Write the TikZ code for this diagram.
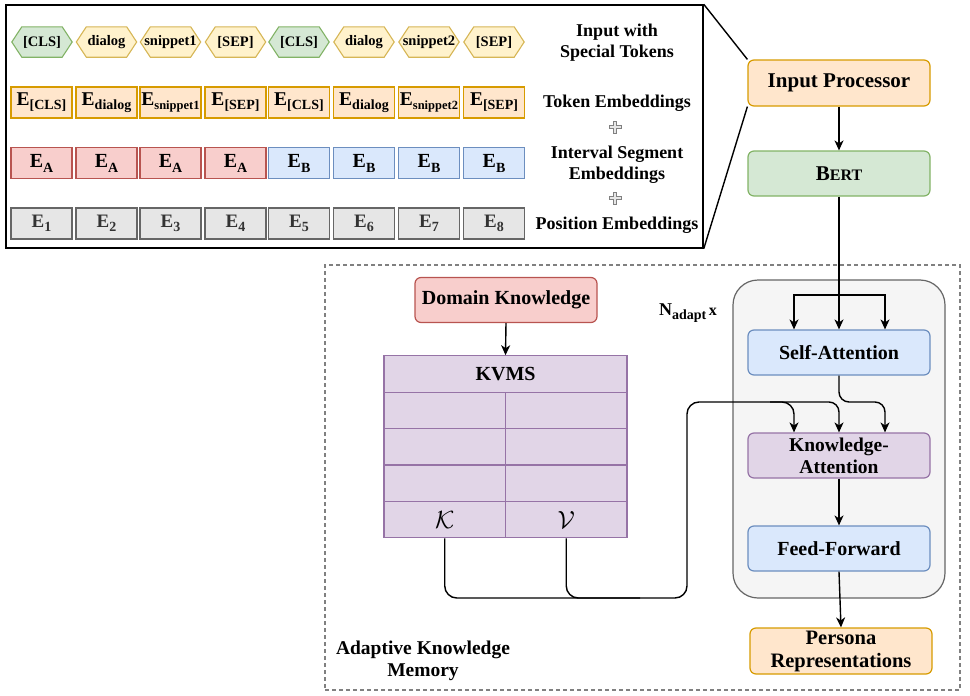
\documentclass[tikz,border=0pt]{standalone}
\usepackage{fontspec}
\setmainfont{Liberation Serif}
\usetikzlibrary{arrows.meta,backgrounds}
\definecolor{grnF}{HTML}{D5E8D4}\definecolor{grnD}{HTML}{82B366}
\definecolor{yelF}{HTML}{FFF2CC}\definecolor{yelD}{HTML}{D6B656}
\definecolor{orF}{HTML}{FFE6CC}\definecolor{orD}{HTML}{D79B00}
\definecolor{redF}{HTML}{F8CECC}\definecolor{redD}{HTML}{B85450}
\definecolor{bluF}{HTML}{DAE8FC}\definecolor{bluD}{HTML}{6C8EBF}
\definecolor{purF}{HTML}{E1D5E7}\definecolor{purD}{HTML}{9673A6}
\definecolor{gryF}{HTML}{E6E6E6}\definecolor{gryD}{HTML}{666666}
\definecolor{conF}{HTML}{F5F5F5}\definecolor{txtG}{HTML}{333333}
\newcommand{\fsz}[2]{\fontsize{#1pt}{#2pt}\selectfont}
\newcommand{\Emb}[4]{{\fsz{#1}{#1}E}\raisebox{-#3pt}{\fsz{#2}{#2}#4}}
\tikzset{
  hexa/.style={rectangle, minimum width=60pt, minimum height=30pt, inner sep=0pt,
    font=\bfseries\fsz{14.5}{16}},
  hexline/.style={line width=1.1pt},
  emb/.style={draw, rectangle, minimum width=61pt, minimum height=31pt, inner sep=0pt,
    line width=1.3pt, font=\bfseries},
  blk/.style={draw, rounded corners=6pt, minimum width=182pt, minimum height=45pt,
    line width=1.2pt, align=center, font=\bfseries\fsz{20}{22}, inner sep=0pt},
  cell/.style={draw=purD, fill=purF, line width=1.2pt, minimum width=121.5pt,
    minimum height=36.4pt, inner sep=0pt},
  conn/.style={line width=1.4pt, draw=black},
  arr/.style={conn, -{Stealth[length=10pt,width=9pt,inset=3pt]}},
  lbl/.style={align=center, font=\bfseries\fsz{18}{21}, inner sep=0pt},
  plussign/.style={fill=gryF, draw=gray, line width=0.8pt}
}
\begin{document}
\begin{tikzpicture}[x=1pt,y=-1pt]
\useasboundingbox (0,0) rectangle (970,696);
% zoom box
\node[draw, line width=1.5pt, minimum width=697pt, minimum height=243pt, inner sep=0pt] (zoombox) at (354.5,126.5) {};
% hexagons
\foreach \i/\x/\t/\f/\d in {1/42/{[CLS]}/grnF/grnD, 2/106.5/dialog/yelF/yelD, 3/170.5/snippet1/yelF/yelD, 4/235.5/{[SEP]}/yelF/yelD,
  5/299/{[CLS]}/grnF/grnD, 6/364/dialog/yelF/yelD, 7/429/snippet2/yelF/yelD, 8/494/{[SEP]}/yelF/yelD}
  {\node[hexa] (h\i) at (\x,42) {\t};
   \begin{scope}[on background layer]
   \draw[hexline, fill=\f, draw=\d] (h\i.west) -- ([xshift=10pt]h\i.north west) -- ([xshift=-10pt]h\i.north east)
     -- (h\i.east) -- ([xshift=-10pt]h\i.south east) -- ([xshift=10pt]h\i.south west) -- cycle;
   \end{scope}}
% token embeddings
\foreach \i/\x/\s/\t in {1/41.5/14/{[CLS]}, 2/106.5/14/dialog, 3/170.5/12.5/snippet1, 4/235.5/14/{[SEP]},
  5/299/14/{[CLS]}, 6/364/14/dialog, 7/429/12.5/snippet2, 8/494/14/{[SEP]}}
  {\node[emb, fill=orF, draw=orD] (t\i) at (\x,102.5) {\Emb{19.5}{\s}{4}{\t}};}
% segment embeddings
\foreach \i/\x in {1/41.5, 2/106.5, 3/170.5, 4/235.5}
  {\node[emb, fill=redF, draw=redD] (s\i) at (\x,163) {\Emb{20}{14}{5}{A}};}
\foreach \i/\x in {5/299, 6/364, 7/429, 8/494}
  {\node[emb, fill=bluF, draw=bluD] (s\i) at (\x,163) {\Emb{20}{14}{5}{B}};}
% position embeddings
\foreach \i/\x in {1/41.5, 2/106.5, 3/170.5, 4/235.5, 5/299, 6/364, 7/429, 8/494}
  {\node[emb, fill=gryF, draw=gryD, text=txtG] (p\i) at (\x,223.5) {\Emb{19}{14}{4}{\i}};}
% row labels
\node[lbl] (l1) at (617,43) {Input with\\Special Tokens};
\node[lbl] (l2) at (617,103) {Token Embeddings};
\node[lbl] (l3) at (617,165) {Interval Segment\\Embeddings};
\node[lbl] (l4) at (617,225) {Position Embeddings};
\foreach \y in {127,198}{
  \draw[plussign] (609,\y-1.8) -- (613.2,\y-1.8) -- (613.2,\y-6) -- (616.8,\y-6) -- (616.8,\y-1.8) -- (621,\y-1.8)
    -- (621,\y+1.8) -- (616.8,\y+1.8) -- (616.8,\y+6) -- (613.2,\y+6) -- (613.2,\y+1.8) -- (609,\y+1.8) -- cycle;}
% adaptive knowledge memory region
\node[draw=gray, dash pattern=on 4pt off 3pt, line width=1.2pt, minimum width=635pt, minimum height=425pt, inner sep=0pt] (akm) at (642.5,477.5) {};
\node[draw=gryD, fill=conF, rounded corners=25pt, line width=1.2pt, minimum width=212pt, minimum height=318pt, inner sep=0pt] (stack) at (839,439) {};
% right column
\node[blk, fill=orF, draw=orD, font=\bfseries\fsz{21}{22}, minimum height=46pt] (ip) at (839,83) {Input Processor};
\node[blk, fill=grnF, draw=grnD] (bert) at (839,173.5) {{\fsz{21}{22}B}{\fsz{16}{17}ERT}};
\node[blk, fill=bluF, draw=bluD] (sa) at (839,352.5) {Self-Attention};
\node[blk, fill=purF, draw=purD, font=\bfseries\fsz{19.5}{22}] (ka) at (839,455.5) {Knowledge-\\Attention};
\node[blk, fill=bluF, draw=bluD] (ff) at (839,548.5) {Feed-Forward};
\node[blk, fill=orF, draw=orD, minimum height=46pt, font=\bfseries\fsz{20.5}{23}] (pr) at (841,651) {Persona\\Representations};
\node[inner sep=0pt] (nad) at (688,313) {\bfseries{\fsz{18}{18}N}\raisebox{-4pt}{\fsz{14}{14}adapt} {\fsz{16}{16}x}};
% domain knowledge and KVMS
\node[blk, fill=redF, draw=redD] (dk) at (506,300) {Domain Knowledge};
\node[cell, minimum width=243pt, font=\bfseries\fsz{20}{22}] (kvms) at (505.5,374) {KVMS};
\foreach \r/\y in {1/410.4, 2/446.8, 3/483.2}{
  \node[cell] (a\r) at (444.75,\y) {};
  \node[cell] (b\r) at (566.25,\y) {};}
\node[cell, font=\fsz{27}{27}] (kcell) at (444.75,519.6) {$\mathcal{K}$};
\node[cell, font=\fsz{27}{27}] (vcell) at (566.25,519.6) {$\mathcal{V}$};
\node[lbl, font=\bfseries\fsz{19.5}{22}] (akml) at (423,661) {Adaptive Knowledge\\Memory};
% connectors
\draw[conn] (zoombox.north east) -- (ip.north west);
\draw[conn] (zoombox.south east) -- (ip.south west);
\draw[arr] (ip.south) -- (bert.north);
\draw[arr] (bert.south) -- (sa.north);
\coordinate (fork) at (839,295);
\draw[arr] (fork) -| ([xshift=-45pt]sa.north);
\draw[arr] (fork) -| ([xshift=46pt]sa.north);
\draw[arr, rounded corners=10pt] (sa.south) |- (860,402) -| ([xshift=46pt]ka.north);
\coordinate (bendR) at (687,598);
\coordinate (bendT) at (687,402);
\draw[arr, rounded corners=12pt] (kcell.south) |- (bendR) -- (bendT) -| ([xshift=-45pt]ka.north);
\draw[conn, rounded corners=12pt] (vcell.south) |- (640,598);
\draw[arr, rounded corners=10pt] (770,402) -| (ka.north);
\draw[arr] (ka.south) -- (ff.north);
\draw[arr] (ff.south) -- (pr.north);
\draw[arr] (dk.south) -- (kvms.north);
\end{tikzpicture}
\end{document}
